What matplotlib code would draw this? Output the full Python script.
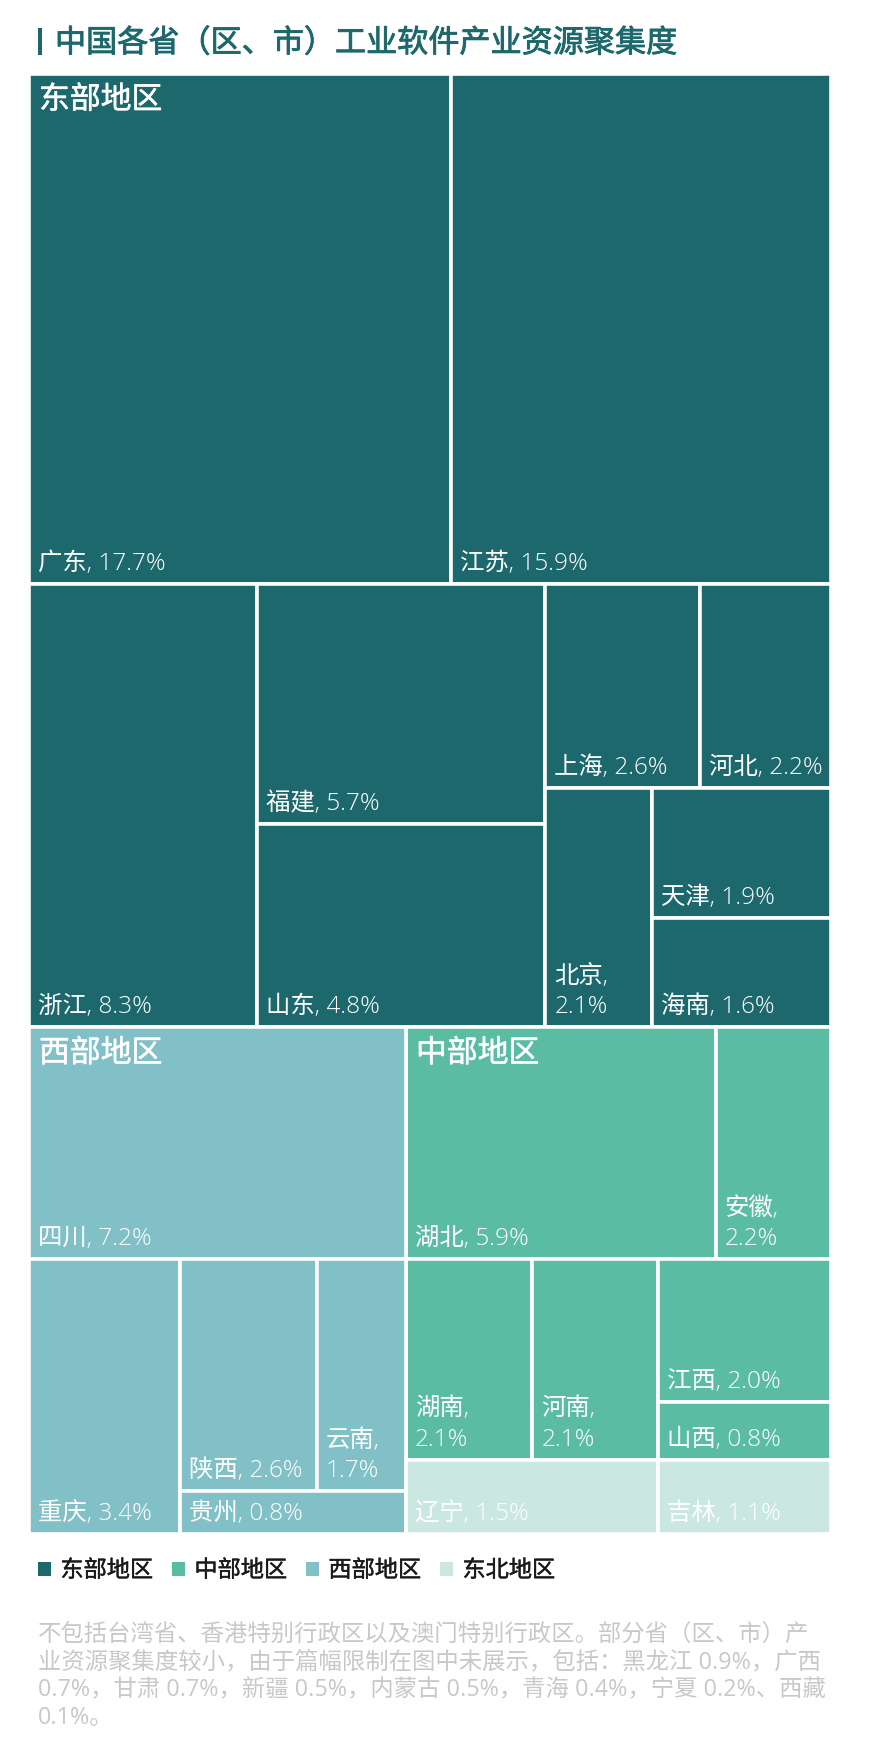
import matplotlib
matplotlib.use('Agg')
from matplotlib import pyplot as plt
from matplotlib import patheffects as pe
from matplotlib.patches import Patch, Rectangle

plt.rcParams['font.family'] = ['Open Sans', 'Noto Sans CJK SC', 'DejaVu Sans']

W, H = 869, 1738

#%% data
east_names = ['广东', '江苏', '浙江', '福建', '山东', '上海', '河北', '北京', '天津', '海南']
east_values = [17.7, 15.9, 8.3, 5.7, 4.8, 2.6, 2.2, 2.1, 1.9, 1.6]
west_names = ['四川', '重庆', '陕西', '云南', '贵州']
west_values = [7.2, 3.4, 2.6, 1.7, 0.8]
central_names = ['湖北', '安徽', '湖南', '河南', '江西', '山西']
central_values = [5.9, 2.2, 2.1, 2.1, 2.0, 0.8]
northeast_names = ['辽宁', '吉林']
northeast_values = [1.5, 1.1]

region_names = ['东部地区', '中部地区', '西部地区', '东北地区']
region_colors = ['#1c686c', '#5bbca4', '#81c0c6', '#cbe7e2']

title = '中国各省（区、市）工业软件产业资源聚集度'
note_lines = [
    '不包括台湾省、香港特别行政区以及澳门特别行政区。部分省（区、市）产',
    '业资源聚集度较小，由于篇幅限制在图中未展示，包括：黑龙江 0.9%，广西',
    '0.7%，甘肃 0.7%，新疆 0.5%，内蒙古 0.5%，青海 0.4%，宁夏 0.2%、西藏',
    '0.1%。',
]
# these labels are too wide for their box and wrap after the comma
wrapped = ['北京', '安徽', '湖南', '河南', '云南']

values = {}
colors = {}
for names, vals, col in [(east_names, east_values, region_colors[0]),
                         (central_names, central_values, region_colors[1]),
                         (west_names, west_values, region_colors[2]),
                         (northeast_names, northeast_values, region_colors[3])]:
    for n, v in zip(names, vals):
        values[n] = v
        colors[n] = col

#%% nesting of the treemap, 'h' = side by side, 'v' = stacked
east_tree = ('v', [('h', ['广东', '江苏']),
                   ('h', ['浙江',
                          ('v', ['福建', '山东']),
                          ('v', [('h', ['上海', '河北']),
                                 ('h', ['北京', ('v', ['天津', '海南'])])])])])
west_tree = ('v', ['四川', ('h', ['重庆', ('v', [('h', ['陕西', '云南']), '贵州'])])])
top_right_tree = ('h', ['湖北', '安徽'])
mid_left_tree = ('h', ['湖南', '河南'])
mid_right_tree = ('v', ['江西', '山西'])


def weight(node):
    if isinstance(node, str):
        return values[node]
    return sum(weight(c) for c in node[1])


def layout(node, x0, y0, x1, y1, boxes):
    if isinstance(node, str):
        boxes[node] = (x0, y0, x1, y1)
        return
    total = weight(node)
    pos = x0 if node[0] == 'h' else y0
    for c in node[1]:
        if node[0] == 'h':
            nxt = pos + (x1 - x0) * weight(c) / total
            layout(c, pos, y0, nxt, y1, boxes)
        else:
            nxt = pos + (y1 - y0) * weight(c) / total
            layout(c, x0, pos, x1, nxt, boxes)
        pos = nxt


boxes = {}
east_w = weight(east_tree)
west_w = weight(west_tree)
right_w = sum(central_values) + sum(northeast_values)
all_w = east_w + west_w + right_w

split_y = east_w / all_w
split_x = west_w / (west_w + right_w)
layout(east_tree, 0, 0, 1, split_y, boxes)
layout(west_tree, 0, split_y, split_x, 1, boxes)

# right part: top row, then a 2x2 block whose rows and columns line up
top_w = weight(top_right_tree)
y_a = split_y + (1 - split_y) * top_w / right_w
layout(top_right_tree, split_x, split_y, 1, y_a, boxes)
left_w = weight(mid_left_tree) + values['辽宁']
col_w = left_w + weight(mid_right_tree) + values['吉林']
x_a = split_x + (1 - split_x) * left_w / col_w
row_w = weight(mid_left_tree) + weight(mid_right_tree)
y_b = y_a + (1 - y_a) * row_w / (row_w + sum(northeast_values))
layout(mid_left_tree, split_x, y_a, x_a, y_b, boxes)
layout(mid_right_tree, x_a, y_a, 1, y_b, boxes)
layout('辽宁', split_x, y_b, x_a, 1, boxes)
layout('吉林', x_a, y_b, 1, 1, boxes)

#%% plotting
fig = plt.figure(figsize=(W / 100, H / 100), dpi=100, facecolor='white')
ax = fig.add_axes([29 / W, 1 - 1534 / H, 802 / W, (1534 - 73.5) / H])
ax.set_xlim(0, 1)
ax.set_ylim(1, 0)
ax.axis('off')

px = 0.72  # one pixel in points
for n in values:
    x0, y0, x1, y1 = boxes[n]
    ax.add_patch(Rectangle((x0, y0), x1 - x0, y1 - y0, facecolor=colors[n],
                           edgecolor='white', linewidth=2.6, clip_on=False))
    sep = ',\n' if n in wrapped else ', '
    ax.annotate(n + sep + '%.1f%%' % values[n], (x0, y1), xytext=(9 * px, 8 * px),
                textcoords='offset points', ha='left', va='bottom', color='white',
                fontsize=17.6, fontweight='light', linespacing=1.35)

for name, anchor in [('东部地区', '广东'), ('西部地区', '四川'), ('中部地区', '湖北')]:
    x0, y0, x1, y1 = boxes[anchor]
    t = ax.annotate(name, (x0, y0), xytext=(10 * px, -35 * px), textcoords='offset points',
                    ha='left', va='baseline', color='white', fontsize=22.2)
    t.set_path_effects([pe.withStroke(linewidth=0.35, foreground='white')])

fig.add_artist(Rectangle((37.5 / W, 1 - 55 / H), 4 / W, 27 / H, transform=fig.transFigure,
                         facecolor='#1c686c', edgecolor='none'))
t = fig.text(55 / W, 1 - 52 / H, title, fontsize=22.4, fontweight='medium', color='#1c686c',
             ha='left', va='baseline')
t.set_path_effects([pe.withStroke(linewidth=0.6, foreground='#1c686c')])

handles = [Patch(facecolor=c, edgecolor='none') for c in region_colors]
leg = fig.legend(handles, region_names, ncol=4, frameon=False, loc='center left',
                 bbox_to_anchor=(17 / W, 1 - 1571 / H), fontsize=16.7, handlelength=0.55,
                 handleheight=0.55, handletextpad=0.42, columnspacing=0.82, labelcolor='#1a1a1a')
for t in leg.get_texts():
    t.set_path_effects([pe.withStroke(linewidth=0.3, foreground='#1a1a1a')])

for i, line in enumerate(note_lines):
    fig.text(38 / W, 1 - (1640.5 + i * 28) / H, line, fontsize=16.8, color='#c8c8c8',
             ha='left', va='baseline')

fig.savefig('out.png', dpi=100)
